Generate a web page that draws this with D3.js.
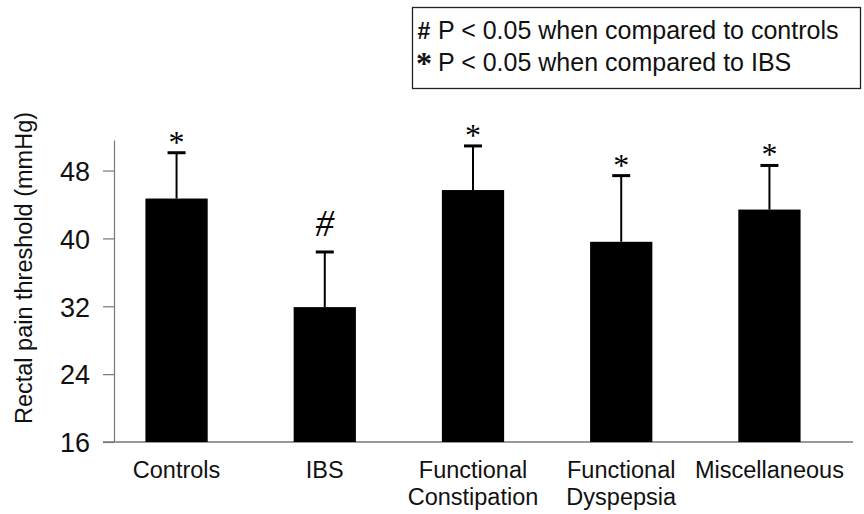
<!DOCTYPE html>
<html><head><meta charset="utf-8">
<script src="https://cdn.jsdelivr.net/npm/d3@7"></script>
<style>body{margin:0;background:#fff}svg{display:block}</style>
</head><body>
<svg id="chart" width="864" height="514"></svg>
<script>
const categories = [["Controls"], ["IBS"], ["Functional", "Constipation"], ["Functional", "Dyspepsia"], ["Miscellaneous"]];
const means = [44.7, 31.9, 45.7, 39.6, 43.4];
const errors = [5.4, 6.5, 5.2, 7.8, 5.2];
const marks = ["*", "#", "*", "*", "*"];
const yTicks = [16, 24, 32, 40, 48];
const legendLines = [["#", "P < 0.05 when compared to controls"], ["*", "P < 0.05 when compared to IBS"]];
const yLabel = "Rectal pain threshold (mmHg)";

const sans = "Liberation Sans, Arial, sans-serif";
const serif = "Liberation Serif, Times New Roman, serif";
const svg = d3.select("#chart");
const keys = categories.map(c => c.join(" "));
const x = d3.scaleBand().domain(keys).range([98, 848]).paddingInner(0.58).paddingOuter(0.32);
const y = d3.scaleLinear().domain([16, 51.6]).range([442, 140]);

// y axis
const gy = svg.append("g").attr("transform", "translate(114,0)")
  .call(d3.axisLeft(y).tickValues(yTicks).tickSize(11).tickPadding(13).tickSizeOuter(0));
gy.select(".domain").attr("stroke", "#777").attr("stroke-width", 1.2);
gy.selectAll(".tick line").attr("stroke", "#777").attr("stroke-width", 1.2);
gy.selectAll(".tick text").attr("font-family", sans)
  .attr("font-size", 27).attr("fill", "#111").attr("dy", "0.36em");

// x axis line
svg.append("line").attr("x1", 103).attr("x2", 853).attr("y1", y(16)).attr("y2", y(16))
  .attr("stroke", "#777").attr("stroke-width", 1.5);

// bars
svg.selectAll("rect.bar").data(keys).join("rect").attr("class", "bar")
  .attr("x", d => x(d)).attr("width", x.bandwidth())
  .attr("y", (d, i) => y(means[i])).attr("height", (d, i) => y(16) - y(means[i]))
  .attr("fill", "#000");

// error bars
const cx = d => x(d) + x.bandwidth() / 2;
const eb = svg.append("g").selectAll("g").data(keys).join("g");
eb.append("line")
  .attr("x1", cx).attr("x2", cx)
  .attr("y1", (d, i) => y(means[i])).attr("y2", (d, i) => y(means[i] + errors[i]))
  .attr("stroke", "#000").attr("stroke-width", 2);
eb.append("line")
  .attr("x1", d => cx(d) - 9).attr("x2", d => cx(d) + 9)
  .attr("y1", (d, i) => y(means[i] + errors[i])).attr("y2", (d, i) => y(means[i] + errors[i]))
  .attr("stroke", "#000").attr("stroke-width", 3);

// significance marks
eb.append("text")
  .attr("x", cx)
  .attr("y", (d, i) => y(means[i] + errors[i]) + (marks[i] === "#" ? -16 : 0))
  .attr("text-anchor", "middle")
  .attr("font-family", serif)
  .attr("font-size", (d, i) => marks[i] === "#" ? 37 : 32)
  .attr("font-style", (d, i) => marks[i] === "#" ? "italic" : "normal")
  .attr("fill", "#000")
  .text((d, i) => marks[i]);

// category labels
const lab = svg.append("g").selectAll("text").data(categories).join("text")
  .attr("x", (d, i) => cx(keys[i]))
  .attr("y", 478)
  .attr("text-anchor", "middle")
  .attr("font-family", sans)
  .attr("font-size", 23.5).attr("fill", "#111");
lab.selectAll("tspan").data(d => d).join("tspan")
  .attr("x", function () { return d3.select(this.parentNode).attr("x"); })
  .attr("dy", (d, j) => j === 0 ? 0 : 27)
  .text(d => d);

// y label
svg.append("text")
  .attr("transform", "translate(32,268) rotate(-90)")
  .attr("text-anchor", "middle")
  .attr("font-family", sans)
  .attr("font-size", 23.5).attr("fill", "#111")
  .text(yLabel);

// legend
const lg = svg.append("g");
lg.append("rect").attr("x", 412.5).attr("y", 7.5).attr("width", 448).attr("height", 81)
  .attr("fill", "none").attr("stroke", "#222").attr("stroke-width", 1.3);
legendLines.forEach((l, i) => {
  const isStar = l[0] === "*";
  lg.append("text").attr("x", 424).attr("y", 39 + i * 31 + (isStar ? 4 : 0))
    .attr("text-anchor", "middle")
    .attr("font-family", isStar ? serif : sans)
    .attr("font-size", isStar ? 32 : 23).attr("font-weight", "bold").attr("fill", "#111")
    .text(l[0]);
  lg.append("text").attr("x", 438).attr("y", 39 + i * 31 + (i === 1 ? 1 : 0))
    .attr("font-family", sans)
    .attr("font-size", 25).attr("fill", "#111")
    .text(l[1]);
});
</script>
</body></html>
